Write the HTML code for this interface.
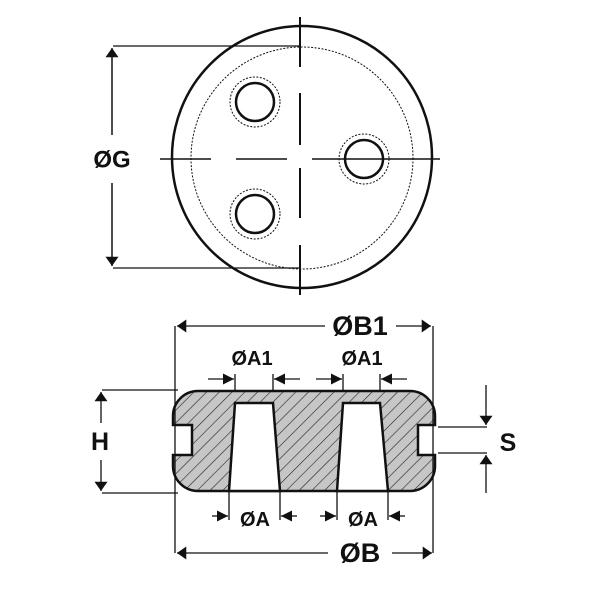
<!DOCTYPE html>
<html><head><meta charset="utf-8"><style>
html,body{margin:0;padding:0;background:#fff;}
svg{display:block;}
text{font-family:"Liberation Sans",sans-serif;font-weight:bold;fill:#111;text-anchor:middle;dominant-baseline:central;}
</style></head><body>
<svg width="600" height="600" viewBox="0 0 600 600" xmlns="http://www.w3.org/2000/svg">
<defs>
<pattern id="h" width="9" height="9" patternUnits="userSpaceOnUse" patternTransform="rotate(45)">
<rect width="9" height="9" fill="#c6c6c6"/>
<line x1="0" y1="0" x2="0" y2="9" stroke="#222" stroke-width="1.2"/>
</pattern>
<marker id="a" viewBox="0 0 10 10" refX="10" refY="5" markerWidth="14" markerHeight="11" markerUnits="userSpaceOnUse" orient="auto">
<path d="M0,0 L10,5 L0,10 z" fill="#111"/></marker>
<marker id="b" viewBox="0 0 10 14" refX="10" refY="7" markerWidth="20" markerHeight="13" markerUnits="userSpaceOnUse" orient="auto">
<path d="M0,0 L10,7 L0,14 z" fill="#111"/></marker>
</defs>
<g fill="none" stroke="#111">
<ellipse cx="302" cy="157" rx="130" ry="131" stroke-width="2.5"/>
<circle cx="302" cy="158" r="111" stroke-width="1" stroke-dasharray="2,1.5"/>
<circle cx="255" cy="102" r="19" stroke-width="2.5"/>
<circle cx="255" cy="102" r="25" stroke-width="1" stroke-dasharray="2,1.5"/>
<circle cx="364" cy="159" r="19" stroke-width="2.5"/>
<circle cx="364" cy="159" r="25" stroke-width="1" stroke-dasharray="2,1.5"/>
<circle cx="255" cy="214" r="19" stroke-width="2.5"/>
<circle cx="255" cy="214" r="25" stroke-width="1" stroke-dasharray="2,1.5"/>
<path d="M300,17V67 M300,93V145 M300,168V218 M300,245V295" stroke-width="2"/>
<path d="M160,159H211 M236,159H287 M312,159H440" stroke-width="1.5"/>
<path d="M113,46H300 M113,268H300" stroke-width="1.2"/>
<path d="M112,135V48" stroke-width="1.5" marker-end="url(#b)"/>
<path d="M112,183V266" stroke-width="1.5" marker-end="url(#b)"/>
</g>
<text x="112" y="160" font-size="24">ØG</text>
<path d="M198,391 H410 A25,25 0 0 1 435,416 V425 H418 V455 H435 V466 A25,25 0 0 1 410,491 H198 A25,25 0 0 1 173,466 V455 H192 V425 H173 V416 A25,25 0 0 1 198,391 Z" fill="url(#h)" stroke="#111" stroke-width="2.5"/>
<path d="M235,403 H273 L280,491 H229 Z M343,403 H380 L388,491 H337 Z" fill="#fff" stroke="#111" stroke-width="2.5"/>
<g fill="none" stroke="#111" stroke-width="1.3">
<path d="M175,326V553 M433,326V553"/>
<path d="M102,390H178 M102,493H178"/>
<path d="M438,427H487 M438,453H487"/>
<path d="M235,374V391 M273,374V391 M343,374V391 M380,374V391"/>
<path d="M229,491V520 M280,491V520 M337,491V520 M388,491V520"/>
<path d="M325,326H177" marker-end="url(#b)"/>
<path d="M396,326H431" marker-end="url(#b)"/>
<path d="M208,379H234" marker-end="url(#a)"/>
<path d="M300,379H274" marker-end="url(#a)"/>
<path d="M316,379H342" marker-end="url(#a)"/>
<path d="M407,379H381" marker-end="url(#a)"/>
<path d="M212,516H228" marker-end="url(#a)"/>
<path d="M297,516H281" marker-end="url(#a)"/>
<path d="M320,516H336" marker-end="url(#a)"/>
<path d="M405,516H389" marker-end="url(#a)"/>
<path d="M328,553H177" marker-end="url(#b)"/>
<path d="M392,553H432" marker-end="url(#b)"/>
<path d="M101,423V392" marker-end="url(#b)"/>
<path d="M101,460V491" marker-end="url(#b)"/>
<path d="M486,385V425" marker-end="url(#b)"/>
<path d="M486,493V455" marker-end="url(#b)"/>
</g>
<text x="360" y="326" font-size="27">ØB1</text>
<text x="252" y="359" font-size="20">ØA1</text>
<text x="362" y="359" font-size="20">ØA1</text>
<text x="255" y="520" font-size="20">ØA</text>
<text x="363" y="520" font-size="20">ØA</text>
<text x="360" y="553" font-size="27">ØB</text>
<text x="100" y="442" font-size="25">H</text>
<text x="508" y="443" font-size="25">S</text>
</svg>
</body></html>
